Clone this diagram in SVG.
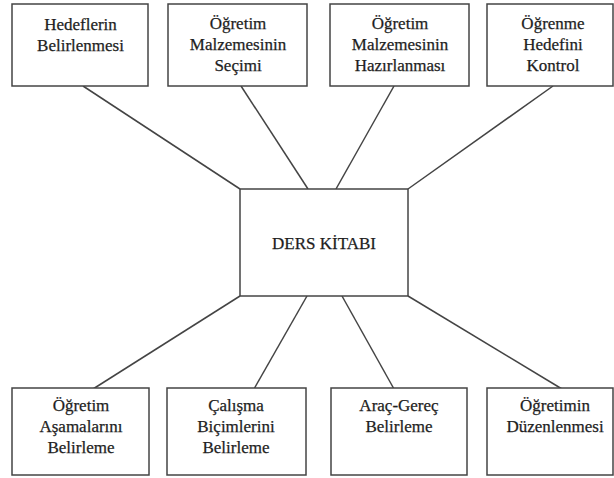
<svg xmlns="http://www.w3.org/2000/svg" width="614" height="478" viewBox="0 0 614 478">
<style>
.box{fill:#fff;stroke:#444;stroke-width:1.5}
.lbl{font-family:"Liberation Serif","Times New Roman",serif;font-size:17px;fill:#1e1e1e;stroke:#1e1e1e;stroke-width:0.25;text-anchor:middle}
.con line{stroke:#444;stroke-width:1.5}
</style>
<rect width="614" height="478" fill="#fff"/>
<g id="connectors" class="con">
<line x1="83" y1="86" x2="240" y2="189"/>
<line x1="241" y1="86" x2="308" y2="189"/>
<line x1="394" y1="86" x2="336" y2="189"/>
<line x1="553" y1="86" x2="408" y2="189"/>
<line x1="240" y1="296" x2="93" y2="389"/>
<line x1="307" y1="296" x2="254" y2="389"/>
<line x1="342" y1="296" x2="394" y2="389"/>
<line x1="408" y1="296" x2="562" y2="389"/>
</g>
<g id="n1"><rect class="box" x="12" y="4" width="136" height="82"/>
<text class="lbl" x="80.5" y="29.5">Hedeflerin</text><text class="lbl" x="80.5" y="50.5">Belirlenmesi</text></g>
<g id="n2"><rect class="box" x="168" y="4" width="139" height="82"/>
<text class="lbl" x="238" y="28.5">Öğretim</text><text class="lbl" x="238" y="49.5">Malzemesinin</text><text class="lbl" x="238" y="70.5">Seçimi</text></g>
<g id="n3"><rect class="box" x="330" y="4" width="139" height="82"/>
<text class="lbl" x="400" y="28.5">Öğretim</text><text class="lbl" x="400" y="49.5">Malzemesinin</text><text class="lbl" x="400" y="70.5">Hazırlanması</text></g>
<g id="n4"><rect class="box" x="487" y="4" width="126" height="82"/>
<text class="lbl" x="553" y="28.5">Öğrenme</text><text class="lbl" x="553" y="49.5">Hedefini</text><text class="lbl" x="553" y="70.5">Kontrol</text></g>
<g id="center"><rect class="box" x="240" y="189" width="168" height="107"/>
<text class="lbl" x="324" y="248.5">DERS KİTABI</text></g>
<g id="n5"><rect class="box" x="12" y="388" width="137" height="87"/>
<text class="lbl" x="81" y="410.5">Öğretim</text><text class="lbl" x="81" y="431.5">Aşamalarını</text><text class="lbl" x="81" y="452.5">Belirleme</text></g>
<g id="n6"><rect class="box" x="167" y="388" width="139" height="87"/>
<text class="lbl" x="236" y="410.5">Çalışma</text><text class="lbl" x="236" y="431.5">Biçimlerini</text><text class="lbl" x="236" y="452.5">Belirleme</text></g>
<g id="n7"><rect class="box" x="331" y="388" width="136" height="87"/>
<text class="lbl" x="399" y="410.5">Araç-Gereç</text><text class="lbl" x="399" y="431.5">Belirleme</text></g>
<g id="n8"><rect class="box" x="487" y="388" width="126" height="87"/>
<text class="lbl" x="555" y="410.5">Öğretimin</text><text class="lbl" x="555" y="431.5">Düzenlenmesi</text></g>
</svg>
